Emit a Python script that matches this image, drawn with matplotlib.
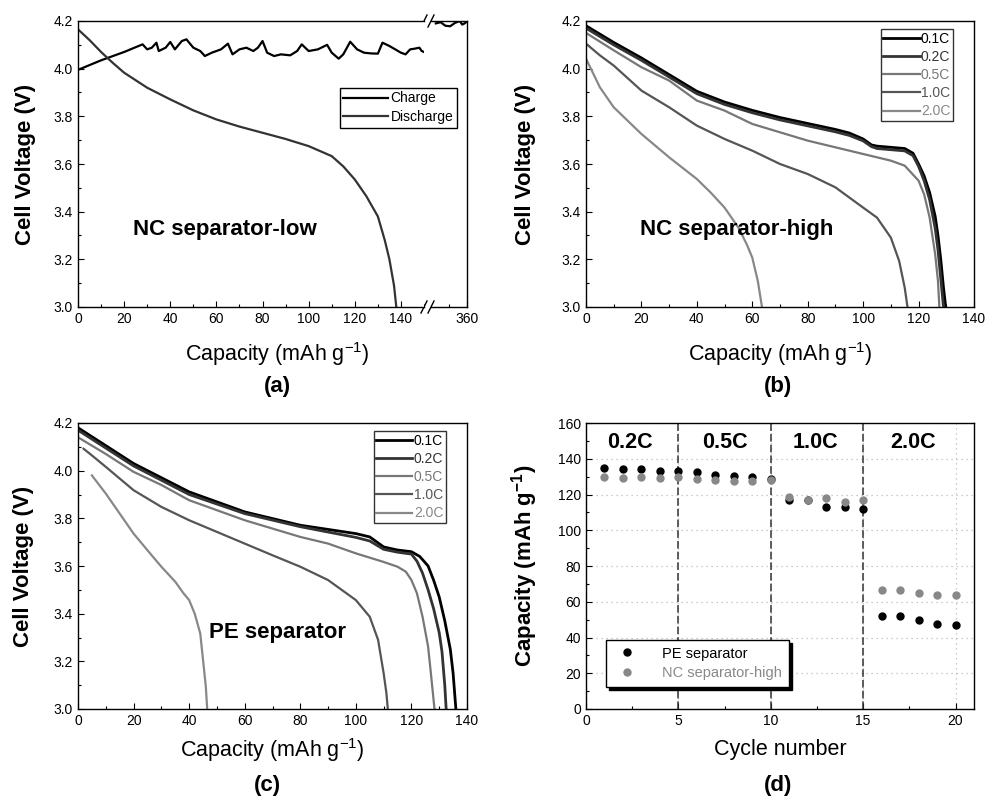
import numpy as np
import matplotlib
matplotlib.use("Agg")
import matplotlib.pyplot as plt
from matplotlib.ticker import MultipleLocator, FixedLocator

plt.rcParams['font.family'] = ['Liberation Sans', 'DejaVu Sans']
plt.rcParams['xtick.direction'] = 'in'
plt.rcParams['ytick.direction'] = 'in'

# ---- (a) NC separator-low ----
a_dis_x = [0, 5, 10, 15, 20, 30, 40, 50, 60, 70, 80, 90, 100, 105, 110, 115, 120, 125, 130, 133, 135, 137, 138]
a_dis_v = [4.165, 4.12, 4.07, 4.025, 3.983, 3.92, 3.871, 3.825, 3.787, 3.757, 3.731, 3.705, 3.675, 3.654,
           3.633, 3.59, 3.535, 3.465, 3.38, 3.28, 3.2, 3.09, 3.0]
a_chg_x = [0, 10, 20, 28, 30, 32, 34, 35, 38, 40, 42, 45, 47, 50, 53, 55, 58, 60, 62, 65, 67, 70, 73, 76,
           78, 80, 82, 85, 88, 92, 95, 97, 100, 104, 108, 110, 113, 115, 118, 121, 124, 127, 130, 132,
           135, 137, 140, 142, 144, 146, 148, 149, 150]
a_chg_v = [3.995, 4.035, 4.07, 4.102, 4.081, 4.088, 4.109, 4.074, 4.088, 4.112, 4.081, 4.116, 4.123,
           4.088, 4.074, 4.053, 4.067, 4.074, 4.081, 4.105, 4.060, 4.081, 4.088, 4.074, 4.088, 4.116,
           4.067, 4.053, 4.060, 4.056, 4.074, 4.102, 4.074, 4.081, 4.100, 4.067, 4.042, 4.060, 4.113,
           4.081, 4.067, 4.064, 4.063, 4.109, 4.095, 4.084, 4.067, 4.060, 4.081, 4.084, 4.088, 4.074,
           4.070]
a_chg2_x = [347, 349, 351, 353, 355, 357, 358, 359, 360]
a_chg2_v = [4.19, 4.195, 4.18, 4.178, 4.192, 4.2, 4.185, 4.19, 4.198]

# ---- (b) NC separator-high ----
rates = ['0.1C', '0.2C', '0.5C', '1.0C', '2.0C']
rate_colors = ['#000000', '#333333', '#777777', '#555555', '#888888']
rate_widths = [2.0, 2.0, 1.6, 1.6, 1.6]

b_x = [
    [0, 10, 20, 30, 40, 50, 60, 70, 80, 90, 95, 100, 103, 105, 110, 115, 118, 120, 122, 124, 126, 127, 128, 129, 129.8],
    [0, 10, 20, 30, 40, 50, 60, 70, 80, 90, 95, 100, 103, 105, 110, 115, 118, 120, 122, 124, 126, 127, 128, 129],
    [0, 10, 20, 30, 40, 50, 60, 70, 80, 90, 100, 110, 115, 120, 122, 124, 126, 127, 127.5],
    [0, 5, 10, 20, 30, 40, 50, 60, 70, 80, 90, 100, 105, 110, 113, 115, 116],
    [0, 5, 10, 20, 30, 40, 45, 50, 55, 58, 60, 62, 63.5],
]
b_v = [
    [4.18, 4.11, 4.045, 3.975, 3.905, 3.86, 3.825, 3.795, 3.77, 3.745, 3.73, 3.705, 3.68, 3.675, 3.67, 3.665, 3.645, 3.6, 3.55, 3.48, 3.38, 3.3, 3.2, 3.08, 3.0],
    [4.17, 4.10, 4.035, 3.965, 3.895, 3.85, 3.815, 3.785, 3.76, 3.735, 3.72, 3.697, 3.673, 3.665, 3.66, 3.655, 3.635, 3.59, 3.53, 3.45, 3.33, 3.24, 3.12, 3.0],
    [4.15, 4.077, 4.006, 3.95, 3.866, 3.824, 3.768, 3.733, 3.698, 3.67, 3.642, 3.614, 3.593, 3.53, 3.473, 3.375, 3.22, 3.109, 3.0],
    [4.105, 4.056, 4.013, 3.908, 3.838, 3.761, 3.705, 3.656, 3.6, 3.558, 3.502, 3.417, 3.375, 3.291, 3.193, 3.081, 3.0],
    [4.042, 3.922, 3.838, 3.726, 3.628, 3.537, 3.48, 3.417, 3.333, 3.263, 3.207, 3.109, 3.0],
]

# ---- (c) PE separator ----
c_x = [
    [0, 20, 40, 60, 80, 100, 105, 110, 115, 120, 123, 126, 128, 130, 132, 134, 135, 136],
    [0, 20, 40, 60, 80, 100, 105, 110, 115, 120, 122, 124, 126, 128, 130, 131, 132, 132.5],
    [0, 10, 20, 30, 40, 50, 60, 70, 80, 90, 100, 110, 115, 118, 120, 122, 124, 126, 127, 128.3],
    [2, 5, 10, 20, 30, 40, 50, 60, 70, 80, 90, 100, 105, 108, 110, 111, 111.5],
    [5, 10, 15, 20, 25, 30, 35, 38, 40, 42, 44, 45, 46, 46.5],
]
c_v = [
    [4.18, 4.03, 3.911, 3.827, 3.771, 3.736, 3.722, 3.68, 3.667, 3.66, 3.64, 3.6, 3.54, 3.47, 3.37, 3.25, 3.15, 3.0],
    [4.17, 4.02, 3.90, 3.82, 3.765, 3.72, 3.705, 3.67, 3.658, 3.65, 3.62, 3.57, 3.5, 3.42, 3.32, 3.24, 3.1, 3.0],
    [4.14, 4.07, 3.995, 3.94, 3.876, 3.834, 3.792, 3.757, 3.722, 3.694, 3.653, 3.617, 3.597, 3.576, 3.541, 3.485, 3.387, 3.262, 3.15, 3.0],
    [4.092, 4.064, 4.016, 3.918, 3.848, 3.792, 3.743, 3.694, 3.645, 3.597, 3.541, 3.457, 3.387, 3.29, 3.15, 3.066, 3.0],
    [3.98, 3.904, 3.82, 3.736, 3.666, 3.597, 3.534, 3.485, 3.457, 3.4, 3.317, 3.206, 3.094, 3.0],
]

# ---- (d) rate capability ----
cycles = list(range(1, 21))
pe_cap = [134.8, 134.4, 134.1, 133.3, 133.3, 132.6, 131.1, 130.5, 129.8, 128.8,
          116.9, 116.9, 113.1, 113.1, 112.0, 52.1, 52.1, 49.7, 47.8, 46.9]
nc_cap = [129.6, 129.2, 129.6, 129.2, 129.6, 128.8, 128.3, 127.7, 127.7, 128.1,
          118.4, 117.0, 117.8, 115.9, 116.7, 66.7, 66.7, 64.8, 63.7, 64.0]
rate_names = ['0.2C', '0.5C', '1.0C', '2.0C']
rate_pos = [2.4, 7.5, 12.4, 17.7]
rate_bounds = [5, 10, 15]

TICK_FS = 10
LABEL_FS = 15.5
XLABEL = 'Capacity (mAh g$^{\\mathregular{-1}}$)'

fig = plt.figure(figsize=(9.85, 7.99), dpi=100)
W, H = 985.0, 799.0


def style_axis(ax):
    ax.tick_params(which='both', top=False, right=False, labelsize=TICK_FS, width=0.8)
    ax.tick_params(which='major', length=4)
    ax.tick_params(which='minor', length=2)
    for s in ax.spines.values():
        s.set_linewidth(1.0)


def voltage_axis(ax, x_right_px, ax_left_px, ax_w_px):
    ax.set_ylim(3.0, 4.2)
    ax.yaxis.set_major_locator(MultipleLocator(0.2))
    ax.yaxis.set_minor_locator(MultipleLocator(0.1))
    ax.yaxis.set_major_formatter(plt.FuncFormatter(lambda v, p: f'{v:.1f}'))
    ax.set_ylabel('Cell Voltage (V)', fontsize=LABEL_FS + 0.5, fontweight='bold')
    ax.yaxis.set_label_coords((x_right_px - ax_left_px) / ax_w_px, 0.5)


# panel (a) with broken axis
ax_a = fig.add_axes([78 / W, 1 - 307 / H, (424 - 78) / W, 286 / H])
ax_a2 = fig.add_axes([431 / W, 1 - 307 / H, (467 - 431) / W, 286 / H], sharey=ax_a)
ax_a.set_zorder(3)
ax_a.plot(a_chg_x, a_chg_v, color='black', lw=1.6, label='Charge')
ax_a.plot(a_dis_x, a_dis_v, color='#333333', lw=1.6, label='Discharge')
ax_a2.plot(a_chg2_x, a_chg2_v, color='black', lw=1.6)
ax_a.set_xlim(0, 150)
ax_a.xaxis.set_major_locator(FixedLocator([0, 20, 40, 60, 80, 100, 120, 140]))
ax_a.xaxis.set_minor_locator(MultipleLocator(10))
voltage_axis(ax_a, 36, 78, 346)
style_axis(ax_a)
ax_a.spines['right'].set_visible(False)
ax_a2.set_xlim(345, 360)
ax_a2.xaxis.set_major_locator(FixedLocator([360]))
ax_a2.xaxis.set_minor_locator(FixedLocator([352.5]))
style_axis(ax_a2)
ax_a2.spines['left'].set_visible(False)
ax_a2.tick_params(which='both', left=False, labelleft=False)
for xx in (424, 431):
    for yy in (21, 307):
        fig.add_artist(plt.Line2D([(xx - 3) / W, (xx + 3) / W], [1 - (yy + 6) / H, 1 - (yy - 6) / H],
                                  color='black', lw=1.0))
ax_a.text(0.16, 0.27, 'NC separator-low', transform=ax_a.transAxes, fontsize=16,
          fontweight='bold', va='center')
leg = ax_a.legend(loc='upper right', bbox_to_anchor=(1.095, 0.766), fontsize=10, frameon=True,
                  fancybox=False, edgecolor='black', handlelength=3.2, handletextpad=0.2,
                  borderpad=0.25, labelspacing=0.35, borderaxespad=0, framealpha=1)
leg.get_frame().set_linewidth(1.0)
ax_a.set_xlabel(XLABEL, fontsize=LABEL_FS)
ax_a.xaxis.set_label_coords((277 - 78) / 346, -0.115)


def rate_panel(rect, left_px, width_px, ylab_px, xs, vs, label, lx, ly, xlab_y):
    ax = fig.add_axes(rect)
    for x, v, r, c, w in zip(xs, vs, rates, rate_colors, rate_widths):
        ax.plot(x, v, color=c, lw=w, label=r)
    ax.set_xlim(0, 140)
    ax.xaxis.set_major_locator(MultipleLocator(20))
    ax.xaxis.set_minor_locator(MultipleLocator(10))
    voltage_axis(ax, ylab_px, left_px, width_px)
    style_axis(ax)
    ax.text(lx, ly, label, transform=ax.transAxes, fontsize=16, fontweight='bold', va='center')
    lg = ax.legend(loc='upper right', bbox_to_anchor=(0.946, 0.972), fontsize=10, frameon=True,
                   fancybox=False, edgecolor='black', handlelength=2.6, handletextpad=0.1,
                   borderpad=0.2, labelspacing=0.3, borderaxespad=0, labelcolor='linecolor')
    lg.get_frame().set_linewidth(1.0)
    ax.set_xlabel(XLABEL, fontsize=LABEL_FS)
    ax.xaxis.set_label_coords(0.5, xlab_y)
    return ax


ax_b = rate_panel([586 / W, 1 - 307 / H, 388 / W, 286 / H], 586, 388, 536,
                  b_x, b_v, 'NC separator-high', 0.14, 0.27, -0.115)
ax_c = rate_panel([78 / W, 1 - 709 / H, 389 / W, 286 / H], 78, 389, 34,
                  c_x, c_v, 'PE separator', 0.337, 0.266, -0.095)

# panel (d)
ax_d = fig.add_axes([586 / W, 1 - 709 / H, 388 / W, 286 / H])
ax_d.set_xlim(0, 21)
ax_d.set_ylim(0, 160)
ax_d.xaxis.set_major_locator(MultipleLocator(5))
ax_d.xaxis.set_minor_locator(MultipleLocator(2.5))
ax_d.yaxis.set_major_locator(MultipleLocator(20))
ax_d.yaxis.set_minor_locator(MultipleLocator(10))
ax_d.grid(True, which='major', color='#bbbbbb', ls=(0, (1, 3)), lw=0.9)
for b in rate_bounds:
    ax_d.axvline(b, color='#333333', ls=(0, (5, 2)), lw=1.1)
ax_d.plot(cycles, pe_cap, 'o', color='black', ms=5, label='PE separator')
ax_d.plot(cycles, nc_cap, 'o', color='#888888', ms=5, label='NC separator-high')
for name, pos in zip(rate_names, rate_pos):
    ax_d.text(pos, 149, name, fontsize=15.5, fontweight='bold', ha='center', va='center')
style_axis(ax_d)
lg = ax_d.legend(loc='lower left', bbox_to_anchor=(0.052, 0.077), fontsize=10.5, frameon=True,
                 fancybox=False, shadow={'color': 'black', 'alpha': 1}, edgecolor='black',
                 handletextpad=1.4, borderpad=0.45, labelspacing=0.4, borderaxespad=0,
                 labelcolor='linecolor', framealpha=1)
lg.get_frame().set_linewidth(1.0)
ax_d.set_xlabel('Cycle number', fontsize=LABEL_FS)
ax_d.xaxis.set_label_coords(0.5, -0.105)
ax_d.set_ylabel('Capacity (mAh g$^{\\mathregular{-1}}$)', fontsize=LABEL_FS + 0.5, fontweight='bold')
ax_d.yaxis.set_label_coords((540 - 586) / 388, 0.5)

for txt, x, y in [('(a)', 277, 387), ('(b)', 778, 387), ('(c)', 267, 785), ('(d)', 778, 785)]:
    fig.text(x / W, 1 - y / H, txt, fontsize=16, fontweight='bold', ha='center', va='center')

fig.savefig('out.png', dpi=100)
